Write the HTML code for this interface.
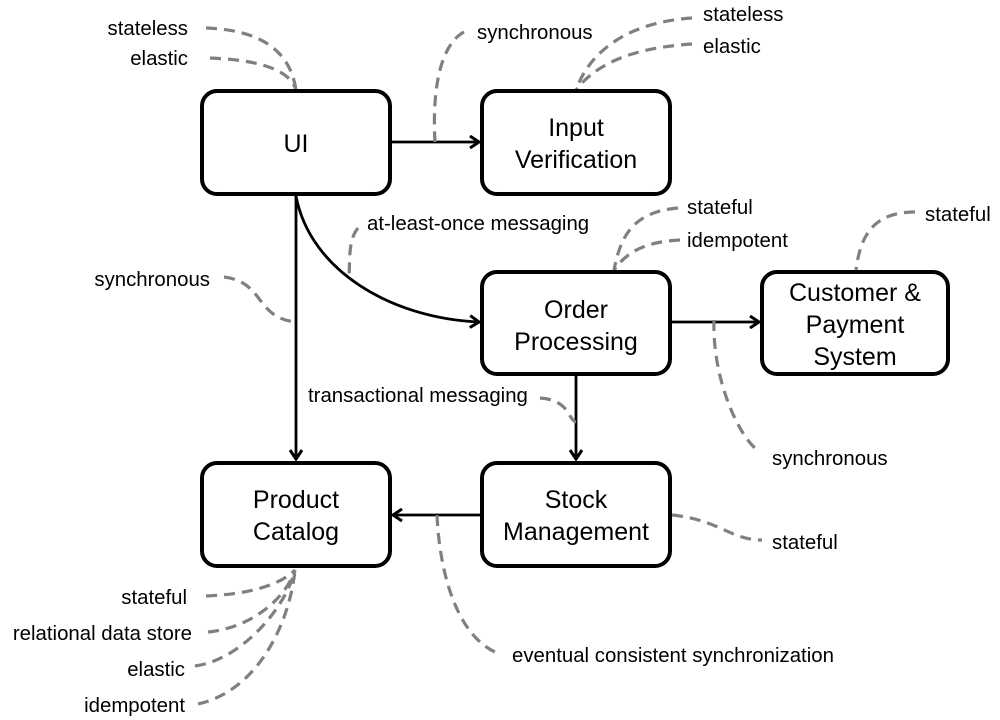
<!DOCTYPE html>
<html><head><meta charset="utf-8"><style>
html,body{margin:0;padding:0;background:#fff;}
svg{display:block;}
text{font-family:"Liberation Sans",sans-serif;fill:#000;}
.b{font-size:25px;text-anchor:middle;}
.l{font-size:20.4px;}
.r{text-anchor:end;}
.d{fill:none;stroke:#808080;stroke-width:3.2;stroke-dasharray:11,7;}
.c{fill:none;stroke:#000;stroke-width:2.8;}
.box{fill:#fff;stroke:#000;stroke-width:4;}
</style></head><body>
<svg width="1000" height="720" viewBox="0 0 1000 720">
<defs><marker id="a" markerWidth="14" markerHeight="14" refX="11" refY="7" orient="auto" markerUnits="userSpaceOnUse"><path d="M2,1 L11,7 L2,13" fill="none" stroke="#000" stroke-width="3"/></marker></defs>

<path class="c" d="M392,142 L479,142" marker-end="url(#a)"/>
<path class="c" d="M296,196 L296,459" marker-end="url(#a)"/>
<path class="c" d="M296,196 C310,270 390,318 479,322" marker-end="url(#a)"/>
<path class="c" d="M672,322 L759,322" marker-end="url(#a)"/>
<path class="c" d="M576,376 L576,459" marker-end="url(#a)"/>
<path class="c" d="M480,515 L393,515" marker-end="url(#a)"/>

<path class="d" d="M206,28 C260,30 290,50 296,90"/>
<path class="d" d="M210,58 C260,60 290,70 296,90"/>
<path class="d" d="M464,32 C440,45 432,90 435,142"/>
<path class="d" d="M692,18 C630,22 590,50 576,90"/>
<path class="d" d="M692,44 C630,48 595,65 576,90"/>
<path class="d" d="M224,277 C265,282 255,318 296,322"/>
<path class="d" d="M358,228 C348,240 350,260 349,278"/>
<path class="d" d="M678,208 C630,212 620,240 614,270"/>
<path class="d" d="M680,240 C640,242 625,255 614,270"/>
<path class="d" d="M915,212 C870,212 860,240 856,270"/>
<path class="d" d="M714,320 C712,380 740,440 760,452"/>
<path class="d" d="M540,398 C570,400 568,420 576,422"/>
<path class="d" d="M672,515 C720,520 730,540 762,540"/>
<path class="d" d="M437,515 C440,580 460,640 500,654"/>
<path class="d" d="M206,596 C250,594 280,585 295,570"/>
<path class="d" d="M208,632 C250,628 285,600 295,570"/>
<path class="d" d="M195,666 C240,660 285,610 295,570"/>
<path class="d" d="M198,704 C260,690 290,620 295,570"/>

<rect class="box" x="202" y="91" width="188" height="103" rx="15"/>
<rect class="box" x="482" y="91" width="188" height="103" rx="15"/>
<rect class="box" x="482" y="272" width="188" height="102" rx="15"/>
<rect class="box" x="762" y="272" width="186" height="102" rx="15"/>
<rect class="box" x="202" y="463" width="188" height="103" rx="15"/>
<rect class="box" x="482" y="463" width="188" height="103" rx="15"/>

<text class="b" x="296" y="152">UI</text>
<text class="b" x="576" y="136">Input</text>
<text class="b" x="576" y="168">Verification</text>
<text class="b" x="576" y="318">Order</text>
<text class="b" x="576" y="350">Processing</text>
<text class="b" x="855" y="301">Customer &amp;</text>
<text class="b" x="855" y="333">Payment</text>
<text class="b" x="855" y="365">System</text>
<text class="b" x="296" y="508">Product</text>
<text class="b" x="296" y="540">Catalog</text>
<text class="b" x="576" y="508">Stock</text>
<text class="b" x="576" y="540">Management</text>

<text class="l r" x="188" y="35">stateless</text>
<text class="l r" x="188" y="65">elastic</text>
<text class="l" x="477" y="39">synchronous</text>
<text class="l" x="703" y="21">stateless</text>
<text class="l" x="703" y="53">elastic</text>
<text class="l" x="367" y="230">at-least-once messaging</text>
<text class="l" x="687" y="214">stateful</text>
<text class="l" x="687" y="247">idempotent</text>
<text class="l" x="925" y="221">stateful</text>
<text class="l r" x="210" y="286">synchronous</text>
<text class="l" x="308" y="402">transactional messaging</text>
<text class="l" x="772" y="465">synchronous</text>
<text class="l" x="772" y="549">stateful</text>
<text class="l" x="512" y="662">eventual consistent synchronization</text>
<text class="l r" x="187" y="604">stateful</text>
<text class="l r" x="192" y="640">relational data store</text>
<text class="l r" x="185" y="676">elastic</text>
<text class="l r" x="185" y="712">idempotent</text>
</svg>
</body></html>
